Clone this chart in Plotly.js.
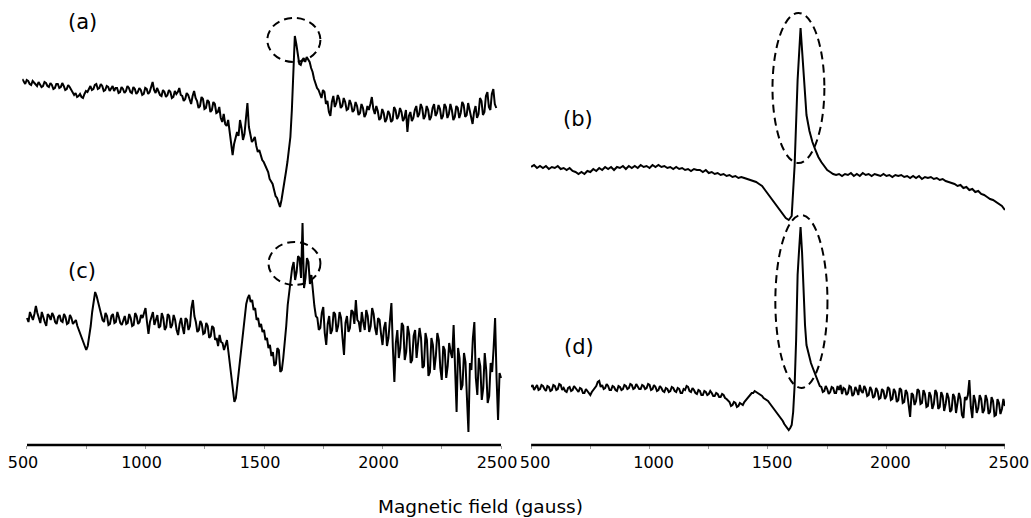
<!DOCTYPE html>
<html><head><meta charset="utf-8">
<script src="https://cdn.plot.ly/plotly-3.0.1.min.js"></script>
<style>html,body{margin:0;padding:0;background:#fff}#chart{width:1031px;height:518px}</style>
</head><body><div id="chart"></div>
<script>
// Magnetic field sweep (gauss)
const FIELD_STEP_FINE = 6.25;
const FIELD_STEP_B = 12.5;
const FIELD_START_A = 480;
const FIELD_START_B = 500;
const FIELD_START_C = 500;
const FIELD_START_D = 500;

const tickVals = [500, 1000, 1500, 2000, 2500];
const tickText = ["500", "1000", "1500", "2000", "2500"];
const panelLabels = ["(a)", "(b)", "(c)", "(d)"];
const xTitle = "Magnetic field (gauss)";

// EPR signal, arbitrary units
const sigA = [
 3,0,-2,2,1,-2,-3,1,-1,-3,-4,0,-2,-5,-4,0,
 -1,-4,-5,-1,-3,-7,-6,-2,-2,-6,-5,-1,-4,-8,-7,-3,
 -5,-8,-10,-13,-11,-15,-14,-12,-15,-16,-12,-9,-10,-6,-4,-8,
 -7,-3,-2,-7,-6,-2,-4,-9,-8,-4,-5,-9,-7,-4,-9,-6,
 -6,-11,-10,-5,-7,-11,-9,-4,-6,-10,-11,-5,-7,-12,-10,-6,
 -8,-13,-12,-6,-7,-12,-10,-4,0,-8,-11,-6,-9,-13,-14,-8,
 -10,-15,-13,-8,-10,-16,-15,-9,-12,-10,-6,-13,-14,-19,-17,-11,
 -13,-18,-22,-14,-9,-16,-19,-26,-24,-15,-17,-27,-26,-18,-20,-30,
 -28,-20,-22,-31,-30,-25,-36,-40,-32,-42,-44,-38,-50,-60,-73,-62,
 -56,-50,-54,-38,-46,-58,-52,-35,-21,-45,-53,-60,-58,-55,-64,-70,
 -68,-74,-78,-80,-84,-88,-90,-97,-100,-102,-108,-114,-116,-122,-125,-118,
 -110,-100,-90,-80,-66,-55,-28,5,46,38,26,18,17,22,24,20,
 25,23,20,14,10,3,-2,-6,-8,-12,-16,-8,-10,-22,-19,-30,
 -34,-20,-14,-25,-21,-13,-17,-26,-24,-16,-20,-28,-27,-18,-22,-30,
 -28,-20,-24,-33,-31,-22,-26,-35,-32,-24,-28,-22,-15,-27,-32,-24,
 -29,-38,-36,-27,-31,-40,-37,-29,-32,-40,-38,-25,-28,-37,-34,-26,
 -30,-39,-36,-28,-50,-34,-30,-39,-36,-28,-24,-35,-32,-22,-26,-37,
 -34,-24,-28,-38,-35,-26,-22,-34,-31,-23,-27,-37,-34,-22,-25,-36,
 -32,-22,-28,-38,-35,-24,-26,-36,-31,-20,-23,-35,-33,-21,-28,-38,
 -42,-30,-24,-36,-32,-16,-19,-33,-30,-14,-10,-25,-28,-12,-7,-22,
 -26];

const sigB = [
 0,2,-1,1,-1,1,-2,0,
 -1,1,-2,-1,-3,-1,-4,-5,
 -7,-5,-7,-4,-5,-2,-4,-1,
 -3,0,-2,0,-3,0,-1,1,
 -2,1,-1,1,-1,2,0,1,
 -1,2,0,2,0,1,-1,0,
 -2,0,-2,-1,-3,-2,-4,-2,
 -3,-3,-5,-3,-6,-5,-7,-6,
 -8,-7,-9,-8,-10,-9,-11,-10,
 -11,-12,-13,-14,-15,-17,-19,-23,
 -27,-32,-36,-39,-43,-47,-51,-53,
 -49,2,87,139,92,52,36,25,
 17,10,5,1,-3,-5,-7,-8,
 -7,-9,-7,-8,-6,-9,-7,-9,
 -6,-8,-7,-9,-7,-8,-9,-7,
 -9,-8,-10,-8,-9,-8,-10,-9,
 -11,-9,-11,-9,-12,-10,-11,-10,
 -12,-11,-13,-12,-14,-15,-16,-17,
 -19,-18,-21,-20,-23,-22,-25,-24,
 -27,-28,-30,-32,-33,-35,-37,-39,
 -43];

const sigC = [
 0,-4,6,1,-2,4,12,5,0,-5,6,0,-4,-8,4,2,
 -2,5,2,-4,-6,1,3,-3,-4,4,1,-6,-5,3,0,-6,
 -4,-2,-8,-12,-18,-20,-24,-30,-32,-28,-20,-8,6,18,26,22,
 16,10,4,-2,-4,5,2,-7,-6,2,4,-5,-4,6,1,-5,
 -7,-1,2,-6,-5,4,0,-8,-7,5,2,-6,-4,3,0,5,
 10,-4,-16,-4,0,6,-7,-2,3,-10,-8,5,0,-12,-9,4,
 2,-10,-7,3,-2,-12,-17,-6,0,-9,-16,0,-2,-12,-8,10,
 18,2,-4,-14,-12,-3,-6,-16,-15,-5,-8,-20,-18,-8,-10,-22,
 -20,-28,-17,-24,-25,-32,-28,-22,-34,-48,-62,-74,-84,-80,-66,-54,
 -40,-26,-12,2,14,20,23,16,18,8,10,-2,0,-9,-6,-14,
 -12,-22,-20,-30,-27,-38,-34,-48,-46,-30,-32,-54,-52,-40,-27,-8,
 13,26,36,50,56,38,46,62,60,40,95,30,40,60,56,34,
 43,25,12,2,0,-12,-10,5,11,-15,-27,-6,2,-16,-12,6,
 4,-14,-8,6,0,-20,-37,-5,2,-14,-10,8,6,-6,18,-2,
 -4,-14,6,-4,-12,8,2,-14,-8,10,4,-10,-17,0,-2,-16,
 -27,-10,-4,-28,-20,-2,15,-30,-64,-25,-12,-40,-30,-5,-8,-42,
 -34,-8,-16,-45,-42,-18,-12,-40,-27,-10,-20,-50,-48,-15,-22,-58,
 -54,-20,-27,-52,-38,-15,-22,-50,-62,-28,-32,-60,-48,-25,-34,-40,
 -7,-50,-94,-30,-40,-72,-67,-35,-44,-80,-114,-45,-52,-20,-4,-60,
 -77,-40,-48,-82,-70,-35,-52,-85,-78,-45,-54,-30,0,-60,-102,-55,
 -60];

const sigD = [
 0,2,-3,-1,2,-3,-2,2,1,-2,-4,1,0,-4,-3,2,
 1,-3,-2,3,2,-3,-1,-4,-5,-1,0,-4,-3,1,-1,-4,
 -5,-1,-2,-6,-6,-2,-4,-7,-8,-5,-3,0,1,5,6,0,
 2,-2,-1,3,1,-3,-3,1,0,-3,-4,1,0,-3,-2,2,
 1,-2,-1,3,2,-2,-1,3,1,-2,-2,2,1,-2,-1,3,
 2,-3,-2,2,0,-4,-3,1,-1,-4,-5,-1,-2,-5,-4,0,
 -1,-4,-5,-1,-2,-6,-6,-2,-3,1,0,-4,-5,-1,-3,-6,
 -7,-3,-4,-8,-8,-4,-5,-8,-7,-4,-6,-9,-9,-6,-7,-10,
 -10,-7,-8,-11,-12,-14,-15,-19,-18,-15,-16,-20,-19,-16,-17,-18,
 -15,-13,-11,-9,-8,-6,-6,-4,-5,-6,-7,-8,-9,-11,-12,-13,
 -14,-16,-18,-20,-21,-24,-25,-28,-29,-32,-34,-37,-39,-42,-43,-41,
 -38,-25,2,47,112,137,160,135,88,62,42,36,27,24,20,16,
 12,8,5,1,0,-5,-4,1,-2,-7,-5,0,-1,-6,-6,1,
 -3,2,-7,-1,-2,-8,-6,1,0,-9,-7,0,-3,-8,2,-4,
 -6,1,-2,-9,-8,0,-3,-11,-9,-1,-4,-12,-11,-2,-4,-12,
 -9,0,-2,-13,-12,-2,-5,-15,-13,-1,-3,-16,-15,-3,-6,-18,
 -30,-6,-8,-18,-14,-2,-4,-17,-16,-3,-7,-20,-19,-5,-9,-22,
 -17,-3,-6,-22,-20,-5,-9,-24,-17,-6,-11,-25,-23,-7,-10,-26,
 -18,-6,-12,-28,-31,-10,-13,-8,7,-20,-31,-8,-14,-26,-21,-8,
 -12,-26,-23,-8,-13,-27,-25,-10,-14,-29,-28,-12,-16,-27,-22,-12,
 -19];

const FONT = "DejaVu Sans, Verdana, sans-serif";
const lineStyle = {color: "#000", width: 2};

const traces = [
  {y: sigA, x0: FIELD_START_A, dx: FIELD_STEP_FINE, xaxis: "x", yaxis: "y", type: "scatter", mode: "lines", line: lineStyle, hoverinfo: "skip"},
  {y: sigC, x0: FIELD_START_C, dx: FIELD_STEP_FINE, xaxis: "x", yaxis: "y3", type: "scatter", mode: "lines", line: lineStyle, hoverinfo: "skip"},
  {y: sigB, x0: FIELD_START_B, dx: FIELD_STEP_B, xaxis: "x2", yaxis: "y2", type: "scatter", mode: "lines", line: lineStyle, hoverinfo: "skip"},
  {y: sigD, x0: FIELD_START_D, dx: FIELD_STEP_FINE, xaxis: "x2", yaxis: "y4", type: "scatter", mode: "lines", line: lineStyle, hoverinfo: "skip"}
];

function xAxis(domain, range, anchor, shift) {
  return {
    domain: domain, range: range, anchor: anchor,
    showline: false, zeroline: false, showgrid: false,
    tickmode: "array", tickvals: tickVals, ticktext: tickText,
    ticks: "outside", ticklen: 3, tickwidth: 1, tickcolor: "#999",
    minor: {tickmode: "linear", tick0: 0, dtick: 250, ticks: "outside", ticklen: 3, tickwidth: 1, tickcolor: "#999", showgrid: false},
    tickfont: {family: FONT, size: 16, color: "#000"},
    ticklabelshift: shift, ticklabelstandoff: 0,
    fixedrange: true
  };
}
const hiddenY = (range, anchor, overlay) => {
  const a = {domain: [0, 1], range: range, anchor: anchor, visible: false, fixedrange: true};
  if (overlay) a.overlaying = overlay;
  return a;
};

const ellipse = (xref, x0, x1, y0, y1) => ({
  type: "circle", xref: xref, yref: "paper", x0: x0, x1: x1, y0: y0, y1: y1,
  line: {color: "#000", width: 2, dash: "8px,5px"}
});
const axisLine = (xref) => ({
  type: "line", xref: xref, yref: "paper", x0: 500, x1: 2500, y0: 0, y1: 0,
  line: {color: "#000", width: 2.5}
});

const label = (text, x, y) => ({
  text: text, xref: "paper", yref: "paper", x: x, y: y, showarrow: false,
  xanchor: "center", yanchor: "middle", font: {family: FONT, size: 21, color: "#000"}
});

const layout = {
  width: 1031, height: 518,
  margin: {l: 0, r: 0, t: 0, b: 73},
  paper_bgcolor: "#fff", plot_bgcolor: "#fff",
  showlegend: false,
  xaxis: xAxis([0.02159, 0.48826], [480, 2510], "y", -4),
  xaxis2: xAxis([0.51503, 0.97478], [499.5, 2500.5], "y2", 4),
  yaxis: hiddenY([-363, 82], "x"),
  yaxis3: hiddenY([-127, 318], "x", "y"),
  yaxis2: hiddenY([-278, 167], "x2"),
  yaxis4: hiddenY([-58, 387], "x2", "y2"),
  shapes: [
    axisLine("x"), axisLine("x2"),
    ellipse("x", 1514, 1738, 0.8607, 0.9596),
    ellipse("x", 1519, 1738, 0.3596, 0.4562),
    ellipse("x2", 1519, 1738, 0.6337, 0.9708),
    ellipse("x2", 1531, 1751, 0.1281, 0.5169)
  ],
  annotations: [
    label(panelLabels[0], 0.0805, 0.9506),
    label(panelLabels[1], 0.5606, 0.7326),
    label(panelLabels[2], 0.0795, 0.3910),
    label(panelLabels[3], 0.5616, 0.2202),
    {text: xTitle, xref: "paper", yref: "paper", x: 0.4656, y: -0.1393, showarrow: false,
     xanchor: "center", yanchor: "middle", font: {family: FONT, size: 18.5, color: "#000"}}
  ]
};

Plotly.newPlot("chart", traces, layout, {staticPlot: true, displayModeBar: false});
</script></body></html>
